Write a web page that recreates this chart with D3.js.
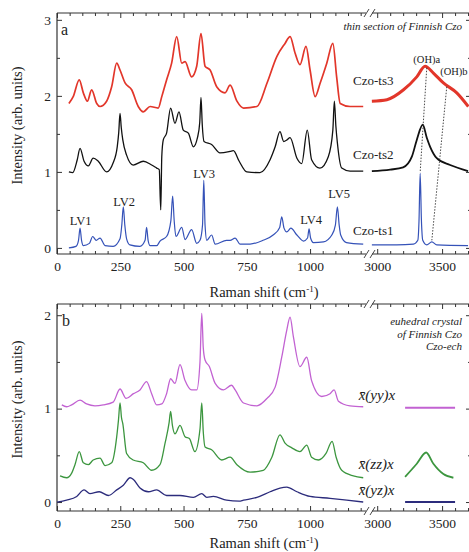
<!DOCTYPE html>
<html>
<head>
<meta charset="utf-8">
<script src="https://cdn.jsdelivr.net/npm/d3@7"></script>
<style>
  body { margin: 0; background: #fff; }
  svg text { font-family: "Liberation Serif", "DejaVu Serif", serif; fill: #222; }
</style>
</head>
<body>
<div id="viz"></div>
<script>
// Raman spectra, values: [shift cm-1, intensity]
// panel a, thin section
const ts3Left = [[47,1.9],[64,1.99],[88,2.21],[104,2.04],[120,1.93],[137,2.08],[157,1.9],[170,1.86],[196,1.93],[216,2.12],[236,2.43],[249,2.34],[269,2.17],[295,2.08],[321,1.86],[341,1.79],[368,1.86],[400,1.84],[414,1.99],[433,2.21],[453,2.43],[473,2.78],[493,2.43],[506,2.45],[532,2.25],[552,2.39],[569,2.82],[585,2.39],[605,2.34],[631,2.12],[664,2.04],[684,2.14],[711,1.93],[737,1.84],[790,1.86],[830,2.17],[869,2.52],[901,2.69],[921,2.78],[941,2.56],[960,2.41],[984,2.65],[1000,2.34],[1020,1.99],[1040,2.17],[1066,2.43],[1090,2.69],[1105,2.25],[1119,1.9],[1158,1.86],[1210,1.86]];
const ts3Right = [[2959,1.93],[3075,1.95],[3203,2.08],[3305,2.25],[3369,2.39],[3433,2.3],[3510,2.17],[3613,2.04],[3702,1.86]];
const ts2Left = [[47,1.0],[62,0.99],[80,1.16],[91,1.31],[107,1.14],[124,1.08],[143,1.18],[163,1.14],[196,1.0],[222,1.12],[238,1.33],[244,1.52],[249,1.77],[254,1.58],[260,1.42],[275,1.22],[301,1.09],[341,1.14],[374,1.09],[394,1.05],[404,1.03],[410,0.5],[414,1.2],[420,1.42],[433,1.51],[449,1.84],[466,1.64],[482,1.79],[499,1.55],[519,1.51],[539,1.33],[555,1.45],[564,1.65],[569,1.98],[574,1.62],[581,1.4],[611,1.36],[644,1.25],[684,1.27],[697,1.28],[720,1.14],[750,1.0],[802,0.99],[842,1.16],[862,1.33],[881,1.53],[896,1.4],[908,1.42],[921,1.45],[948,1.18],[967,1.11],[989,1.55],[1006,1.16],[1039,1.05],[1072,1.2],[1090,1.55],[1096,1.93],[1102,1.6],[1108,1.38],[1125,1.05],[1158,1.01],[1210,1.01]];
const ts2Right = [[2959,1.01],[3100,1.03],[3200,1.06],[3267,1.2],[3305,1.42],[3351,1.62],[3382,1.45],[3408,1.33],[3459,1.18],[3562,1.09],[3700,1.01]];
const ts1Left = [[47,0.0],[75,0.02],[85,0.1],[91,0.26],[97,0.1],[104,0.03],[128,0.06],[141,0.15],[155,0.1],[170,0.13],[190,0.03],[222,0.02],[249,0.12],[256,0.3],[262,0.54],[268,0.3],[275,0.12],[288,0.04],[328,0.02],[348,0.1],[354,0.27],[360,0.1],[368,0.03],[394,0.03],[407,0.09],[433,0.15],[450,0.36],[457,0.68],[463,0.36],[470,0.15],[493,0.27],[506,0.11],[532,0.24],[552,0.06],[565,0.1],[575,0.3],[580,0.89],[585,0.3],[592,0.1],[611,0.17],[625,0.05],[670,0.1],[684,0.1],[704,0.13],[723,0.05],[763,0.05],[814,0.1],[854,0.17],[880,0.27],[888,0.41],[897,0.26],[908,0.21],[924,0.26],[948,0.17],[974,0.09],[990,0.13],[996,0.25],[1002,0.13],[1013,0.07],[1053,0.08],[1086,0.17],[1100,0.3],[1108,0.54],[1115,0.3],[1121,0.17],[1144,0.07],[1210,0.05]];
const ts1Right = [[2959,0.04],[3151,0.04],[3279,0.05],[3313,0.1],[3322,0.35],[3331,0.98],[3341,0.35],[3351,0.1],[3382,0.04],[3421,0.08],[3459,0.04],[3700,0.03]];
// panel b, euhedral crystal
const yyLeft = [[19,1.04],[38,1.02],[58,1.04],[91,1.09],[117,1.05],[150,1.03],[183,1.04],[222,1.07],[249,1.21],[273,1.11],[302,1.16],[328,1.2],[354,1.29],[374,1.16],[394,1.04],[414,1.05],[433,1.16],[449,1.32],[466,1.27],[486,1.47],[506,1.3],[532,1.2],[552,1.2],[565,1.5],[572,2.02],[578,1.65],[585,1.52],[602,1.45],[625,1.27],[658,1.2],[690,1.25],[704,1.2],[737,1.06],[790,1.03],[830,1.11],[862,1.23],[888,1.55],[908,1.84],[921,1.98],[934,1.77],[960,1.45],[987,1.55],[1006,1.3],[1046,1.13],[1079,1.16],[1095,1.2],[1112,1.08],[1158,1.03],[1210,1.02]];
const yyRight = [[3215,1.01],[3350,1.01],[3480,1.01],[3600,1.01]];
const zzLeft = [[12,0.28],[38,0.26],[58,0.31],[71,0.4],[88,0.54],[104,0.42],[124,0.4],[143,0.45],[170,0.47],[190,0.39],[216,0.42],[236,0.7],[243,0.88],[249,1.06],[255,0.9],[260,0.84],[275,0.52],[301,0.45],[341,0.42],[374,0.34],[407,0.4],[427,0.63],[443,0.85],[449,0.97],[456,0.82],[466,0.73],[486,0.82],[506,0.7],[523,0.68],[545,0.54],[565,0.78],[572,1.06],[578,0.75],[585,0.59],[611,0.56],[651,0.45],[684,0.48],[711,0.4],[763,0.32],[815,0.34],[849,0.48],[881,0.72],[901,0.63],[928,0.58],[960,0.54],[987,0.61],[1006,0.48],[1033,0.45],[1063,0.52],[1087,0.65],[1103,0.48],[1125,0.34],[1171,0.28],[1210,0.26]];
const zzRight = [[3215,0.27],[3305,0.41],[3377,0.53],[3433,0.41],[3510,0.3],[3587,0.26]];
const yzLeft = [[0,0.0],[38,0.02],[78,0.06],[107,0.13],[130,0.09],[167,0.11],[203,0.07],[236,0.13],[262,0.18],[289,0.26],[302,0.24],[328,0.15],[361,0.11],[394,0.13],[433,0.07],[486,0.07],[539,0.05],[572,0.09],[592,0.05],[618,0.06],[670,0.02],[720,0.01],[737,0.02],[790,0.05],[842,0.11],[881,0.15],[908,0.16],[948,0.11],[1000,0.06],[1079,0.04],[1145,0.02],[1210,0.0]];
const yzRight = [[3215,0.0],[3400,0.0],[3600,0.0]];

const xTicksLeft = [0, 250, 500, 750, 1000];
const xTicksRight = [3000, 3500];

const W = 469, H = 552;
const svg = d3.select("#viz").append("svg").attr("width", W).attr("height", H);

// both panels share the broken x axis
const xL = d3.scaleLinear().domain([0, 1221]).range([57, 366]);
const xR = d3.scaleLinear().domain([2960, 3715]).range([372, 470]);
const left = 57, right = 471;
const fmt = d3.format("d");

function panel(top, bottom, yDom, yMajor, yMinor, titleY) {
  const g = svg.append("g");
  const y = d3.scaleLinear().domain(yDom).range([bottom, top]);

  // frame with the break on top and bottom
  const frame = g.append("g").attr("stroke", "#333").attr("stroke-width", 1.2).attr("fill", "none");
  [top, bottom].forEach(yy => {
    frame.append("line").attr("x1", left).attr("x2", 366).attr("y1", yy).attr("y2", yy);
    frame.append("line").attr("x1", 372).attr("x2", right).attr("y1", yy).attr("y2", yy);
    [364, 370].forEach(bx => frame.append("line")
      .attr("x1", bx).attr("y1", yy + 4).attr("x2", bx + 5).attr("y2", yy - 4).attr("stroke-width", 0.9));
  });
  frame.append("line").attr("x1", left).attr("x2", left).attr("y1", top).attr("y2", bottom);
  frame.append("line").attr("x1", right).attr("x2", right).attr("y1", top).attr("y2", bottom);

  function addAxis(axis, tx, ty, labels) {
    const a = g.append("g").attr("transform", `translate(${tx},${ty})`).call(axis);
    a.select(".domain").remove();
    a.selectAll("line").attr("stroke", "#333");
    a.selectAll("text").style("font-size", "13.5px").attr("fill", "#222");
    if (!labels) a.selectAll("text").remove();
  }
  const minorL = d3.range(0, 1201, 50).filter(v => v % 250);
  const minorR = d3.range(3000, 3701, 100).filter(v => v % 500);
  [[bottom, d3.axisBottom, true], [top, d3.axisTop, false]].forEach(([yy, ax, lab]) => {
    addAxis(ax(xL).tickValues(xTicksLeft).tickSize(-5).tickPadding(7).tickFormat(fmt), 0, yy, lab);
    addAxis(ax(xL).tickValues(minorL).tickSize(-3).tickFormat(""), 0, yy, false);
    addAxis(ax(xR).tickValues(xTicksRight).tickSize(-5).tickPadding(7).tickFormat(fmt), 0, yy, lab);
    addAxis(ax(xR).tickValues(minorR).tickSize(-3).tickFormat(""), 0, yy, false);
  });
  addAxis(d3.axisLeft(y).tickValues(yMajor).tickSize(-5).tickPadding(6).tickFormat(fmt), left, 0, true);
  addAxis(d3.axisLeft(y).tickValues(yMinor).tickSize(-3).tickFormat(""), left, 0, false);
  addAxis(d3.axisRight(y).tickValues(yMajor).tickSize(-5).tickFormat(""), right, 0, false);
  addAxis(d3.axisRight(y).tickValues(yMinor).tickSize(-3).tickFormat(""), right, 0, false);

  // axis titles
  g.append("text").attr("transform", `translate(22,${(top + bottom) / 2 - 8}) rotate(-90)`)
    .attr("text-anchor", "middle").style("font-size", "14.5px").text("Intensity (arb. units)");
  const xt = g.append("text").attr("x", 264).attr("y", titleY)
    .attr("text-anchor", "middle").style("font-size", "14.5px");
  xt.append("tspan").text("Raman shift (cm");
  xt.append("tspan").attr("dy", -5).style("font-size", "9px").text("-1");
  xt.append("tspan").attr("dy", 5).text(")");

  return { g, y };
}

function draw(p, data, xs, color, w) {
  p.g.append("path").datum(data)
    .attr("fill", "none").attr("stroke", color).attr("stroke-width", w).attr("stroke-linejoin", "round")
    .attr("d", d3.line().curve(d3.curveMonotoneX).x(d => xs(d[0])).y(d => p.y(d[1])));
}

// ---------- panel a
const pa = panel(13, 254, [-0.08, 3.09], [0, 1, 2, 3], [0.5, 1.5, 2.5], 297);
draw(pa, ts3Left, xL, "#e2362a", 1.7);
draw(pa, ts3Right, xR, "#e2362a", 3);
draw(pa, ts2Left, xL, "#111", 1.3);
draw(pa, ts2Right, xR, "#111", 1.8);
draw(pa, ts1Left, xL, "#3552b8", 1.2);
draw(pa, ts1Right, xR, "#3552b8", 1.2);

// dotted guides to the OH bands
[[[3382, 2.37], [3331, 0.99]], [[3536, 2.12], [3421, 0.1]]].forEach(seg => {
  pa.g.append("line")
    .attr("x1", xR(seg[0][0])).attr("y1", pa.y(seg[0][1]))
    .attr("x2", xR(seg[1][0])).attr("y2", pa.y(seg[1][1]))
    .attr("stroke", "#333").attr("stroke-width", 0.9).attr("stroke-dasharray", "1.5,1.5");
});

const lvLabels = [["LV1", 93, 0.3], ["LV2", 265, 0.55], ["LV3", 581, 0.92], ["LV4", 1004, 0.32], ["LV5", 1115, 0.66]];
lvLabels.forEach(([t, x, v]) => pa.g.append("text").attr("x", xL(x)).attr("y", pa.y(v))
  .attr("text-anchor", "middle").style("font-size", "12.5px").text(t));

const sampleLabels = [["Czo-ts3", 2.14], ["Czo-ts2", 1.17], ["Czo-ts1", 0.17]];
sampleLabels.forEach(([t, v]) => pa.g.append("text").attr("x", xL(1170)).attr("y", pa.y(v))
  .style("font-size", "13px").text(t));

pa.g.append("text").attr("x", xR(3382)).attr("y", pa.y(2.43)).attr("text-anchor", "middle")
  .style("font-size", "10.5px").text("(OH)a");
pa.g.append("text").attr("x", xR(3485)).attr("y", pa.y(2.28))
  .style("font-size", "10.5px").text("(OH)b");

pa.g.append("text").attr("x", 61).attr("y", 35).style("font-size", "16px").text("a");
pa.g.append("text").attr("x", 462).attr("y", 30).attr("text-anchor", "end")
  .style("font-size", "11px").style("font-style", "italic").text("thin section of Finnish Czo");

// ---------- panel b
const pb = panel(304, 511, [-0.096, 2.12], [0, 1, 2], [0.5, 1.5], 548);
draw(pb, yyLeft, xL, "#c262d2", 1.3);
draw(pb, yyRight, xR, "#c262d2", 2);
draw(pb, zzLeft, xL, "#3c963f", 1.3);
draw(pb, zzRight, xR, "#3c963f", 1.8);
draw(pb, yzLeft, xL, "#2c2c7c", 1.3);
draw(pb, yzRight, xR, "#2c2c7c", 2);

const polLabels = [["(yy)", 1.09], ["(zz)", 0.35], ["(yz)", 0.075]];
polLabels.forEach(([t, v]) => pb.g.append("text").attr("x", xL(1192)).attr("y", pb.y(v))
  .style("font-size", "15px").style("font-style", "italic").text("x\u0304" + t + "x"));

pb.g.append("text").attr("x", 62).attr("y", 326).style("font-size", "16px").text("b");
["euhedral crystal", "of Finnish Czo", "Czo-ech"].forEach((t, i) =>
  pb.g.append("text").attr("x", 462).attr("y", 325 + i * 12.5).attr("text-anchor", "end")
    .style("font-size", "11px").style("font-style", "italic").text(t));
</script>
</body>
</html>
